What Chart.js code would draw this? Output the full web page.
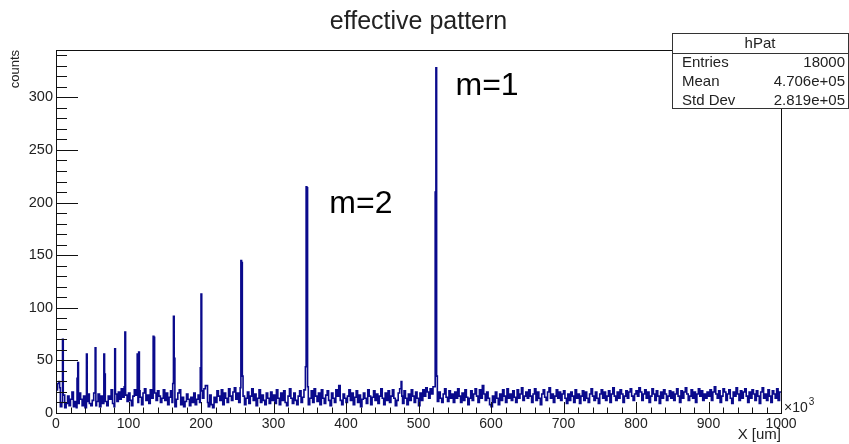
<!DOCTYPE html>
<html>
<head>
<meta charset="utf-8">
<title>effective pattern</title>
<script src="https://cdn.jsdelivr.net/npm/chart.js@4/dist/chart.umd.min.js"></script>
<style>
  html, body { margin: 0; padding: 0; background: #fff; }
  #box { width: 849px; height: 444px; position: relative; }
</style>
</head>
<body>
<div id="box"><canvas id="hPat"></canvas></div>
<script>
// background counts, one value per 2 units of X (x10^3 um), 0..1000
const BG_BIN = 2;
const bgCounts = [
  22, 28, 24, 6, 10, 17, 5, 9, 16, 7, 13, 20, 6, 11, 5, 9, 19, 13, 7, 16, 5, 11, 18, 9, 7,
  12, 19, 7, 11, 18, 6, 16, 9, 21, 11, 7, 16, 13, 22, 9, 6, 18, 11, 20, 13, 23, 15, 8, 17, 11,
  19, 12, 7, 16, 22, 17, 10, 21, 15, 8, 19, 23, 12, 17, 9, 22, 14, 8, 19, 12, 21, 16, 10, 14, 22,
  12, 19, 8, 15, 21, 10, 17, 6, 13, 19, 22, 8, 15, 6, 11, 18, 13, 7, 15, 10, 19, 8, 13, 17, 10,
  21, 14, 23, 26, 10, 6, 17, 8, 5, 15, 10, 21, 16, 12, 22, 8, 19, 14, 10, 23, 16, 12, 20, 24, 13,
  19, 10, 24, 21, 16, 8, 14, 20, 9, 16, 23, 12, 18, 7, 14, 22, 10, 17, 12, 8, 19, 14, 9, 20, 12,
  17, 9, 22, 14, 8, 19, 12, 21, 10, 7, 16, 23, 14, 9, 19, 12, 8, 16, 21, 10, 15, 22, 12, 18, 8,
  14, 21, 10, 23, 16, 11, 19, 8, 22, 14, 9, 17, 21, 12, 7, 19, 14, 10, 22, 16, 26, 12, 8, 18, 14,
  10, 16, 22, 12, 19, 8, 15, 21, 10, 17, 6, 13, 19, 14, 9, 22, 16, 8, 15, 21, 12, 18, 9, 16, 23,
  14, 8, 19, 12, 21, 10, 16, 22, 14, 7, 12, 19, 23, 16, 9, 21, 14, 8, 18, 12, 22, 16, 10, 20, 14,
  7, 19, 12, 22, 16, 24, 20, 14, 23, 18, 25, 21, 15, 11, 20, 14, 10, 18, 23, 15, 11, 21, 14, 18, 10,
  20, 14, 23, 16, 10, 19, 12, 22, 15, 8, 14, 21, 12, 18, 23, 16, 10, 22, 14, 26, 18, 12, 20, 14, 8,
  6, 16, 10, 20, 14, 8, 18, 12, 22, 16, 10, 23, 14, 18, 12, 21, 15, 10, 22, 14, 18, 24, 12, 16, 20,
  14, 22, 16, 10, 18, 23, 12, 20, 14, 8, 18, 22, 15, 12, 20, 24, 14, 18, 10, 16, 22, 14, 20, 12, 18,
  21, 14, 9, 18, 12, 20, 16, 10, 22, 14, 18, 9, 16, 21, 12, 20, 14, 10, 18, 23, 16, 12, 20, 14, 9,
  18, 22, 14, 20, 12, 16, 21, 10, 18, 24, 16, 12, 20, 14, 22, 18, 10, 16, 21, 14, 20, 23, 16, 12, 18,
  21, 16, 24, 20, 12, 18, 22, 14, 20, 10, 16, 23, 18, 12, 21, 16, 9, 20, 14, 22, 18, 12, 16, 21, 14,
  20, 12, 18, 23, 16, 10, 21, 14, 20, 24, 18, 12, 16, 22, 14, 20, 10, 18, 23, 16, 21, 12, 18, 14, 20,
  16, 22, 12, 20, 25, 18, 14, 21, 10, 16, 23, 20, 12, 18, 22, 14, 9, 20, 16, 24, 18, 12, 21, 14, 20,
  23, 16, 10, 20, 14, 22, 18, 12, 21, 16, 9, 20, 24, 14, 18, 12, 22, 16, 10, 21, 18, 14, 23, 12, 20,
];

// narrow bins (1 unit wide) that stand out of the background
const peakX = [4, 9, 29, 30, 42, 54, 66, 67, 81, 94, 95, 112, 114, 134, 135, 161, 162, 163,
  199, 200, 208, 255, 256, 257, 344, 345, 346, 347, 390, 476, 522, 523, 524, 525];
const peakCounts = [30, 70, 33, 48, 56, 62, 56, 37, 61, 25, 77, 56, 58, 73, 72, 28, 92, 52,
  43, 113, 26, 145, 143, 35, 44, 215, 214, 25, 26, 30, 25, 210, 328, 35];
const PEAK_BIN = 1;

const X_MIN = 0;
const X_MAX = 1000;
const Y_MAX = 345;

const statsRows = [
  ["Entries", "18000"],
  ["Mean", "4.706e+05"],
  ["Std Dev", "2.819e+05"],
];

const FONT = "'Liberation Sans', Arial, Helvetica, sans-serif";
const INK = "#222";
const LINE = "#0a0a8c";

function countAt(x) {
  const i = peakX.findIndex((p) => p <= x && x < p + PEAK_BIN);
  if (i >= 0) return peakCounts[i];
  return bgCounts[Math.min(Math.floor(x / BG_BIN), bgCounts.length - 1)];
}

function buildSteps() {
  const edges = new Set();
  bgCounts.forEach((_, i) => edges.add(i * BG_BIN));
  peakX.forEach((p) => {
    edges.add(p);
    edges.add(p + PEAK_BIN);
  });
  const sorted = [...edges].filter((e) => e < X_MAX).sort((a, b) => a - b);
  const pts = sorted.map((e) => ({ x: e, y: countAt(e) }));
  pts.push({ x: X_MAX, y: pts[pts.length - 1].y });
  return pts;
}

const framePlugin = {
  id: "rootFrame",
  afterDraw(chart) {
    const { ctx, chartArea: a, scales } = chart;
    const xs = scales.x;
    const ys = scales.y;
    ctx.save();
    ctx.strokeStyle = "#111";
    ctx.lineWidth = 1;

    // frame
    ctx.strokeRect(a.left + 0.5, a.top + 0.5, a.right - a.left, a.bottom - a.top);

    // ticks pointing into the frame
    ctx.beginPath();
    for (let v = X_MIN; v <= X_MAX; v += 20) {
      const px = Math.round(xs.getPixelForValue(v)) + 0.5;
      const len = v % 100 === 0 ? 11 : 5.5;
      ctx.moveTo(px, a.bottom);
      ctx.lineTo(px, a.bottom - len);
    }
    for (let v = 0; v <= Y_MAX; v += 10) {
      const py = Math.round(ys.getPixelForValue(v)) + 0.5;
      const len = v % 50 === 0 ? 22 : 11;
      ctx.moveTo(a.left, py);
      ctx.lineTo(a.left + len, py);
    }
    ctx.stroke();

    // title
    ctx.fillStyle = INK;
    ctx.textAlign = "center";
    ctx.textBaseline = "alphabetic";
    ctx.font = `25px ${FONT}`;
    ctx.fillText("effective pattern", (a.left + a.right) / 2, 29);

    // x10^3 exponent
    ctx.textAlign = "left";
    ctx.font = `14px ${FONT}`;
    ctx.fillText("\u00d710", a.right + 3, a.bottom - 1);
    const w = ctx.measureText("\u00d710").width;
    ctx.font = `10px ${FONT}`;
    ctx.fillText("3", a.right + 3 + w + 1, a.bottom - 8);

    // order labels
    ctx.fillStyle = "#000";
    ctx.font = `32px ${FONT}`;
    ctx.fillText("m=1", xs.getPixelForValue(551), 95);
    ctx.fillText("m=2", xs.getPixelForValue(377), 213);

    // stats box
    const bx = 672;
    const by = 33;
    const bw = 176;
    const bh = 75;
    ctx.fillStyle = "#fff";
    ctx.fillRect(bx, by, bw, bh);
    ctx.strokeStyle = "#333";
    ctx.strokeRect(bx + 0.5, by + 0.5, bw, bh);
    ctx.beginPath();
    ctx.moveTo(bx, by + 20.5);
    ctx.lineTo(bx + bw, by + 20.5);
    ctx.stroke();

    ctx.fillStyle = INK;
    ctx.textBaseline = "middle";
    ctx.font = `15px ${FONT}`;
    ctx.textAlign = "center";
    ctx.fillText("hPat", bx + bw / 2, by + 11);
    statsRows.forEach(([name, val], i) => {
      const y = by + 30 + i * 19;
      ctx.textAlign = "left";
      ctx.fillText(name, bx + 10, y);
      ctx.textAlign = "right";
      ctx.fillText(val, bx + bw - 3, y);
    });
    ctx.restore();
  },
};

new Chart(document.getElementById("hPat"), {
  type: "line",
  data: {
    datasets: [
      {
        label: "hPat",
        data: buildSteps(),
        stepped: true,
        borderColor: LINE,
        borderWidth: 1.6,
        pointRadius: 0,
        fill: false,
        tension: 0,
      },
    ],
  },
  options: {
    responsive: true,
    maintainAspectRatio: false,
    animation: false,
    layout: { padding: { left: 0, right: 68, top: 50, bottom: 0 } },
    plugins: {
      legend: { display: false },
      tooltip: { enabled: false },
      title: { display: false },
    },
    scales: {
      x: {
        type: "linear",
        min: X_MIN,
        max: X_MAX,
        grid: { display: false, drawTicks: false },
        border: { display: false },
        ticks: {
          stepSize: 100,
          padding: 3,
          maxRotation: 0,
          color: INK,
          font: { family: FONT, size: 14 },
          callback: (v) => String(v),
        },
        title: {
          display: true,
          text: "X [um]",
          align: "end",
          color: INK,
          font: { family: FONT, size: 15 },
          padding: { top: 0, bottom: 0 },
        },
        afterFit: (s) => {
          s.height = 31;
        },
      },
      y: {
        min: 0,
        max: Y_MAX,
        grid: { display: false, drawTicks: false },
        border: { display: false },
        ticks: {
          stepSize: 50,
          includeBounds: false,
          padding: 3,
          color: INK,
          font: { family: FONT, size: 14.5 },
        },
        title: {
          display: true,
          text: "counts",
          align: "end",
          color: INK,
          font: { family: FONT, size: 13 },
          padding: { top: 8, bottom: 0 },
        },
        afterFit: (s) => {
          s.width = 56;
        },
      },
    },
  },
  plugins: [framePlugin],
});
</script>
</body>
</html>
